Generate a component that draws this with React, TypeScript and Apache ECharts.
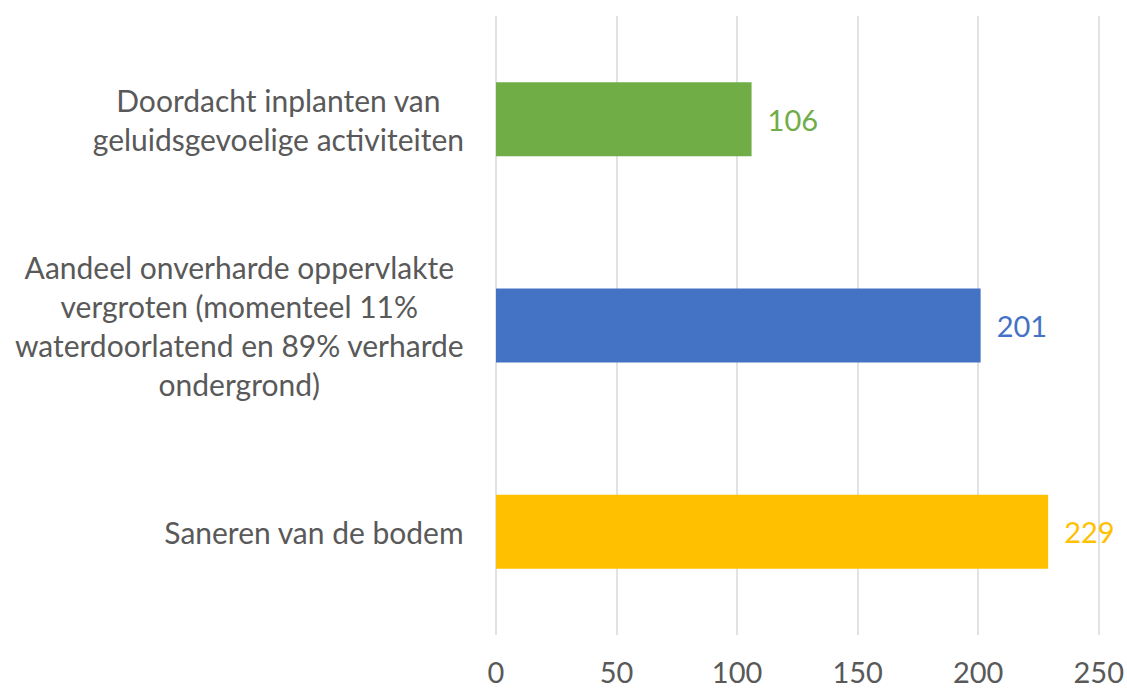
import React, { useEffect, useRef } from "react";
import * as echarts from "echarts";

const categories = [
  "Saneren van de bodem",
  "Aandeel onverharde oppervlakte\nvergroten (momenteel 11%\nwaterdoorlatend en 89% verharde\nondergrond)",
  "Doordacht inplanten van\ngeluidsgevoelige activiteiten",
];
const values = [229, 201, 106];
const colors = ["#FFC000", "#4472C4", "#70AD47"];
const xTicks = { min: 0, max: 250, interval: 50 };

const FONT = "Lato";
const TEXT = "#595959";

export default function App() {
  const ref = useRef<HTMLDivElement>(null);
  useEffect(() => {
    if (!ref.current) return;
    const chart = echarts.init(ref.current, undefined, { renderer: "svg" });
    chart.setOption({
      animation: false,
      grid: { left: 496, right: 28, top: 16, bottom: 54, containLabel: false },
      xAxis: {
        type: "value",
        min: xTicks.min,
        max: xTicks.max,
        interval: xTicks.interval,
        axisLine: { show: false },
        axisTick: { show: false },
        splitLine: { show: true, lineStyle: { color: "#D9D9D9", width: 1.5 } },
        axisLabel: { color: TEXT, fontFamily: FONT, fontSize: 29, margin: 22 },
      },
      yAxis: {
        type: "category",
        data: categories,
        axisLine: { show: false },
        axisTick: { show: false },
        axisLabel: {
          margin: 32,
          color: TEXT,
          fontFamily: FONT,
          fontSize: 30,
          lineHeight: 39,
          formatter: (v: string) =>
            v
              .split("\n")
              .map((l) => `{c|${l}}`)
              .join("\n"),
          rich: {
            c: {
              align: "center",
              color: TEXT,
              fontFamily: FONT,
              fontSize: 30,
              lineHeight: 39,
            },
          },
        },
      },
      series: [
        {
          type: "bar",
          data: values.map((v, i) => ({
            value: v,
            itemStyle: { color: colors[i] },
            label: { color: colors[i] },
          })),
          barWidth: 74,
          label: {
            show: true,
            position: "right",
            distance: 16,
            fontFamily: FONT,
            fontSize: 29,
          },
        },
      ],
    });
    return () => chart.dispose();
  }, []);
  return (
    <div
      ref={ref}
      style={{ position: "absolute", left: 0, top: 0, width: 1127, height: 689 }}
    />
  );
}
